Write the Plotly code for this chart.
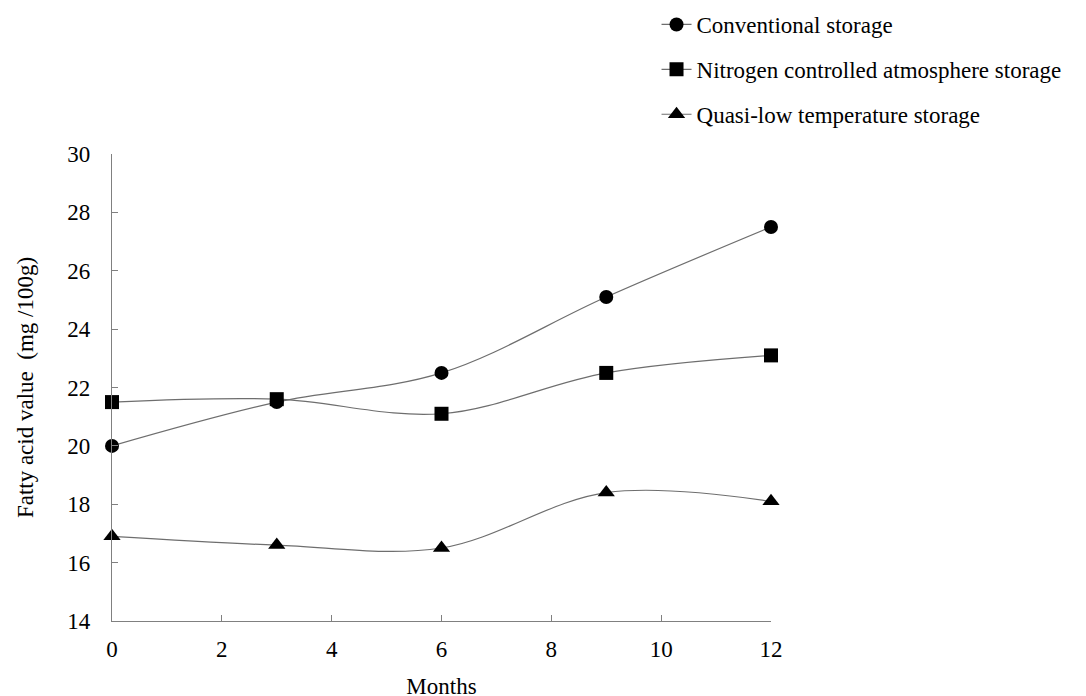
import plotly.graph_objects as go

months = [0, 3, 6, 9, 12]
conventional = [20.0, 21.5, 22.5, 25.1, 27.5]
nitrogen = [21.5, 21.6, 21.1, 22.5, 23.1]
quasi_low = [16.9, 16.6, 16.5, 18.4, 18.1]

names = ["Conventional storage", "Nitrogen controlled atmosphere storage",
         "Quasi-low temperature storage"]
series = [conventional, nitrogen, quasi_low]
symbols = ["circle", "square", "triangle-up"]
sizes = [14, 14, 15]

fig = go.Figure()
for i, (n, ys, sym, sz) in enumerate(zip(names, series, symbols, sizes)):
    fig.add_trace(go.Scatter(
        x=months, y=ys, name=n, mode="lines+markers",
        line=dict(color="#6e6e6e", width=1.2, shape="spline", smoothing=1),
        marker=dict(symbol=sym, size=sz, color="black"),
        cliponaxis=False, legendgroup=f"g{i}",
    ))

font = "Liberation Serif, Times New Roman, serif"
FS = 23
fig.update_layout(
    width=1078, height=691,
    paper_bgcolor="white", plot_bgcolor="white",
    margin=dict(l=104, r=315, t=146, b=78, autoexpand=False),
    font=dict(family=font, size=FS, color="black"),
    legend=dict(x=0.6016, y=1.3233, xref="container", yref="paper",
                xanchor="left", yanchor="top",
                font=dict(family=font, size=FS, color="black"),
                tracegroupgap=12, traceorder="grouped",
                itemwidth=30, bgcolor="rgba(0,0,0,0)"),
    showlegend=True,
)
fig.update_xaxes(range=[0, 12], dtick=2, tick0=0, showgrid=False, zeroline=False,
                 showline=True, linecolor="#808080", linewidth=1.3,
                 ticks="inside", tickcolor="#808080", ticklen=6, tickwidth=1.3,
                 ticklabelstandoff=7,
                 title=dict(text="Months", font=dict(family=font, size=FS), standoff=23),
                 tickfont=dict(family=font, size=FS))
fig.update_yaxes(range=[14, 30], dtick=2, tick0=14, showgrid=False, zeroline=False,
                 showline=True, linecolor="#808080", linewidth=1.3,
                 ticks="inside", tickcolor="#808080", ticklen=6, tickwidth=1.3,
                 ticklabelstandoff=16,
                 title=dict(text="Fatty acid value  (mg /100g)", font=dict(family=font, size=FS), standoff=27),
                 tickfont=dict(family=font, size=FS))

fig.write_html("out.html")
